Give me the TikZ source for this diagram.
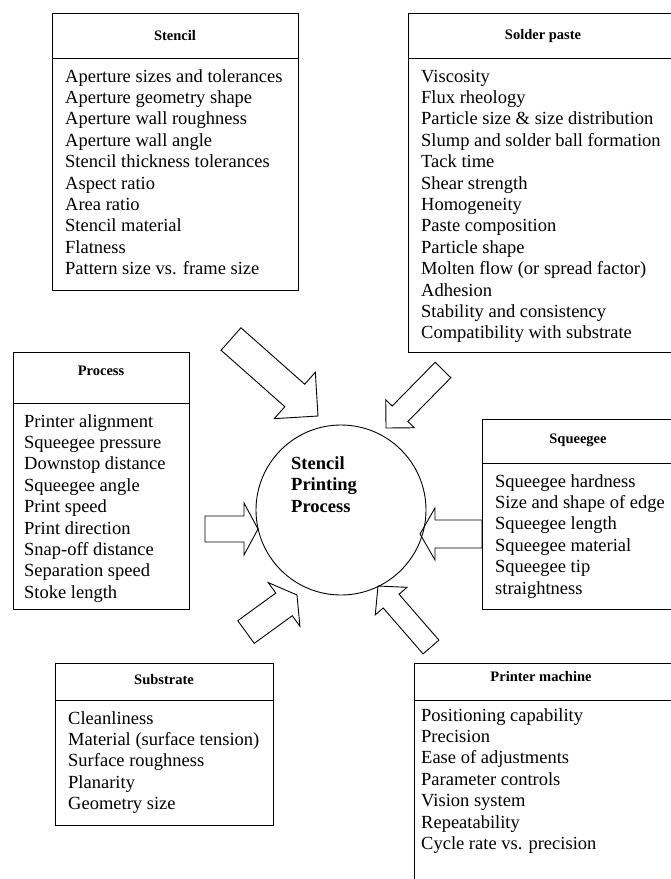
\documentclass[tikz,border=0pt]{standalone}
\usepackage{fontspec}
\setmainfont{Liberation Serif}
\usetikzlibrary{calc}

% block arrow: tail, tip, body half width, head half width, head length
\newcommand{\blockarrow}[5]{%
  \coordinate (ab) at ($(#2)!#5!(#1)$);
  \draw[blockarr] ($(#1)!#3!90:(#2)$) -- ($(ab)!#3!90:(#2)$) -- ($(ab)!#4!90:(#2)$)
    -- (#2) -- ($(ab)!#4!-90:(#2)$) -- ($(ab)!#3!-90:(#2)$) -- ($(#1)!#3!-90:(#2)$) -- cycle;
}

\tikzset{
  box/.style={draw, line width=0.9pt},
  boxtitle/.style={inner sep=0, font=\fontsize{14.5}{17}\selectfont\bfseries},
  boxlist/.style={anchor=north west, inner sep=0, align=left, font=\fontsize{18.5}{21.4}\selectfont},
  blockarr/.style={draw, line width=0.9pt, line join=miter},
}

\begin{document}
\begin{tikzpicture}[x=1pt,y=-1pt]
  \useasboundingbox (0,0) rectangle (671,879);
  \clip (0,0) rectangle (671,879);

  % Stencil
  \draw[box] (52,13) rectangle (298,290);
  \draw[box] (52,58) -- (298,58);
  \node[boxtitle] (stenciltitle) at (175,36) {Stencil};
  \node[boxlist] (stencillist) at (65,67) {\strut Aperture sizes and tolerances\\
    Aperture geometry shape\\ Aperture wall roughness\\ Aperture wall angle\\
    Stencil thickness tolerances\\ Aspect ratio\\ Area ratio\\ Stencil material\\
    Flatness\\ Pattern size vs. frame size};

  % Solder paste
  \draw[box] (408,13) rectangle (680,352);
  \draw[box] (408,58) -- (680,58);
  \node[boxtitle] (pastetitle) at (543,36) {Solder paste};
  \node[boxlist] (pastelist) at (421,67) {\strut Viscosity\\ Flux rheology\\
    Particle size \& size distribution\\ Slump and solder ball formation\\
    Tack time\\ Shear strength\\ Homogeneity\\ Paste composition\\ Particle shape\\
    Molten flow (or spread factor)\\ Adhesion\\ Stability and consistency\\
    Compatibility with substrate};

  % Process
  \draw[box] (13,352) rectangle (189,609);
  \draw[box] (13,403) -- (189,403);
  \node[boxtitle] (processtitle) at (101,371) {Process};
  \node[boxlist] (processlist) at (24,412) {\strut Printer alignment\\ Squeegee pressure\\
    Downstop distance\\ Squeegee angle\\ Print speed\\ Print direction\\
    Snap-off distance\\ Separation speed\\ Stoke length};

  % Squeegee
  \draw[box] (482,419) rectangle (680,609);
  \draw[box] (482,463) -- (680,463);
  \node[boxtitle] (squeegeetitle) at (578,440) {Squeegee};
  \node[boxlist] (squeegeelist) at (495,472) {\strut Squeegee hardness\\
    Size and shape of edge\\ Squeegee length\\ Squeegee material\\ Squeegee tip\\
    straightness};

  % Substrate
  \draw[box] (55,663) rectangle (273,825);
  \draw[box] (55,700) -- (273,700);
  \node[boxtitle] (substratetitle) at (164,680) {Substrate};
  \node[boxlist] (substratelist) at (68,709) {\strut Cleanliness\\
    Material (surface tension)\\ Surface roughness\\ Planarity\\ Geometry size};

  % Printer machine
  \draw[box] (414,663) rectangle (680,890);
  \draw[box] (414,700) -- (680,700);
  \node[boxtitle] (printertitle) at (541,677) {Printer machine};
  \node[boxlist] (printerlist) at (421,706) {\strut Positioning capability\\ Precision\\
    Ease of adjustments\\ Parameter controls\\ Vision system\\ Repeatability\\
    Cycle rate vs. precision};

  % centre
  \node[draw, circle, line width=0.9pt, minimum size=170pt, inner sep=0] (proc) at (341,510) {};
  \node[boxlist, font=\fontsize{18.5}{21.5}\selectfont\bfseries] (proclabel) at (291,454)
    {\strut Stencil\\ Printing\\ Process};

  % arrows into the circle
  \coordinate (tl) at (231,339); \coordinate (tlhead) at (318,416);
  \coordinate (ur) at (443,370); \coordinate (urhead) at (386,428);
  \coordinate (lf) at (205,529); \coordinate (lfhead) at (258,529);
  \coordinate (rt) at (482,534); \coordinate (rthead) at (420,534);
  \coordinate (ll) at (246,632); \coordinate (llhead) at (297,595);
  \coordinate (lr) at (431,647); \coordinate (lrhead) at (378,586);

  \blockarrow{tl}{tlhead}{15pt}{31pt}{31pt}
  \blockarrow{ur}{urhead}{11pt}{20pt}{20pt}
  \blockarrow{lf}{lfhead}{13pt}{26pt}{14pt}
  \blockarrow{rt}{rthead}{14pt}{26pt}{15pt}
  \blockarrow{ll}{llhead}{14pt}{27pt}{16pt}
  \blockarrow{lr}{lrhead}{10.5pt}{21pt}{20pt}
\end{tikzpicture}
\end{document}
